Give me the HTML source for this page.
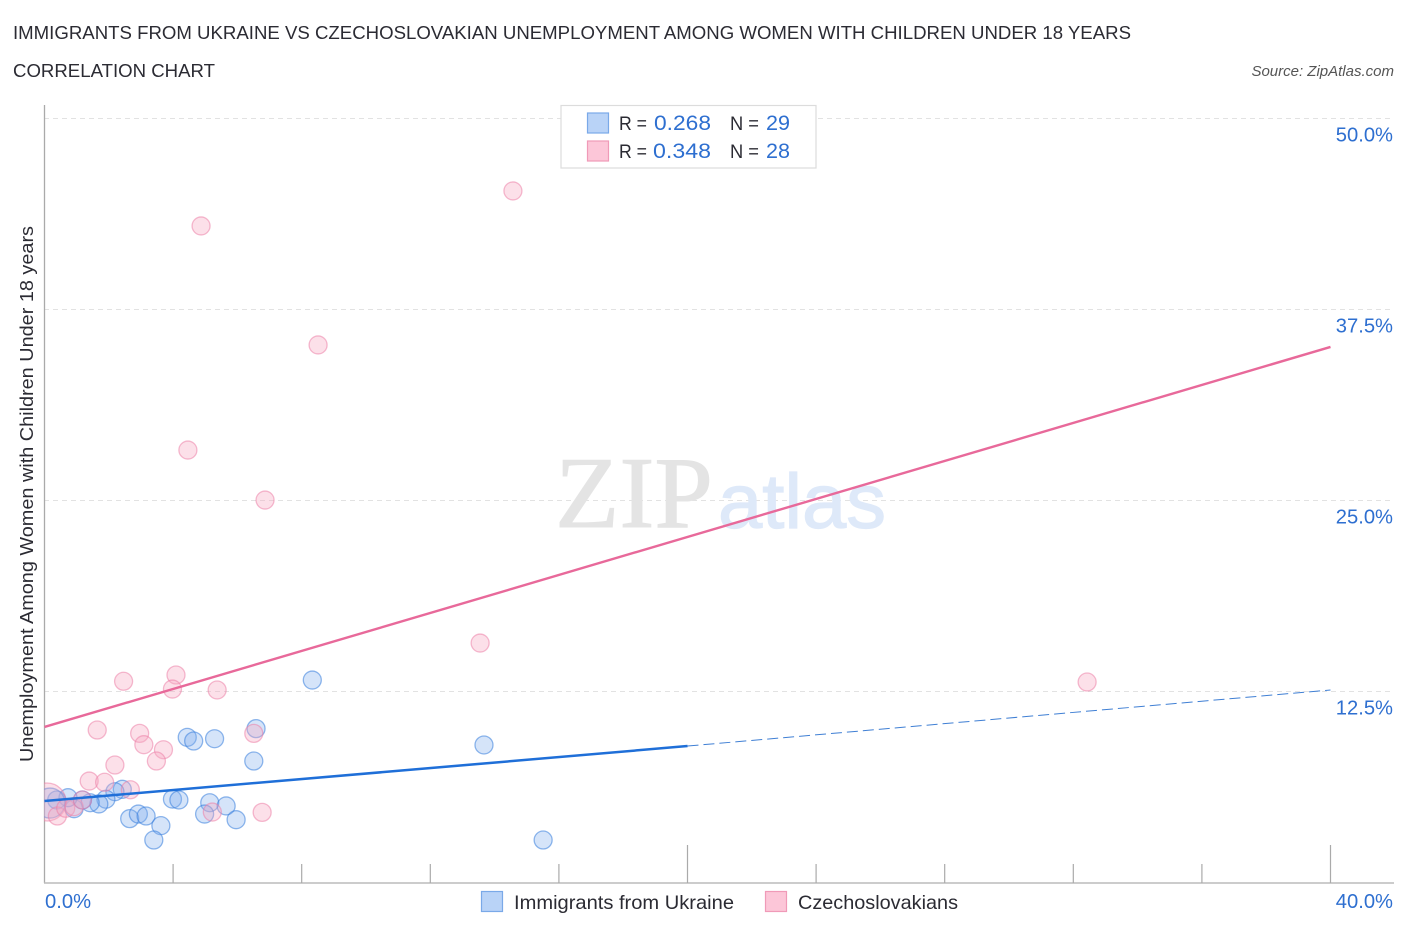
<!DOCTYPE html>
<html lang="en">
<head>
<meta charset="utf-8">
<title>Immigrants from Ukraine vs Czechoslovakian Unemployment Correlation Chart</title>
<style>
html,body{margin:0;padding:0;background:#fff;}
svg{display:block;font-family:"Liberation Sans",sans-serif;}
</style>
</head>
<body>
<svg id="chart" xmlns="http://www.w3.org/2000/svg" width="1406" height="930" viewBox="0 0 1406 930">
  <defs><clipPath id="plot-clip"><rect x="44" y="100" width="1350" height="783"/></clipPath></defs>
  <text x="13" y="39" font-size="18.5" fill="#2b2b33" textLength="1118" lengthAdjust="spacingAndGlyphs">IMMIGRANTS FROM UKRAINE VS CZECHOSLOVAKIAN UNEMPLOYMENT AMONG WOMEN WITH CHILDREN UNDER 18 YEARS</text>
  <text x="13" y="77" font-size="18.5" fill="#2b2b33" textLength="202" lengthAdjust="spacingAndGlyphs">CORRELATION CHART</text>
  <text x="1394" y="76" font-size="15" font-style="italic" fill="#555" text-anchor="end">Source: ZipAtlas.com</text>

  <g id="grid"></g>

  <text x="555" y="527" font-family="'Liberation Serif',serif" font-size="102" fill="#e4e4e4" stroke="#e4e4e4" stroke-width="1" textLength="158" lengthAdjust="spacingAndGlyphs">ZIP</text>
  <text x="718" y="528" font-family="'Liberation Sans',sans-serif" font-size="77" fill="#dee9f9" stroke="#dee9f9" stroke-width="1.2" textLength="168" lengthAdjust="spacingAndGlyphs">atlas</text>

  <g id="axes"></g>
  <g id="points" clip-path="url(#plot-clip)"></g>
  <g id="trends"></g>
  <g id="labels"></g>

  <text transform="translate(33,494) rotate(-90)" font-size="18.5" fill="#2b2b33" text-anchor="middle" textLength="536" lengthAdjust="spacingAndGlyphs">Unemployment Among Women with Children Under 18 years</text>

  <g>
    <rect x="561" y="105.5" width="255" height="62.5" fill="#fff" stroke="#dcdcdc" stroke-width="1.2"/>
    <rect x="587.5" y="113" width="21" height="20" fill="#b9d3f7" stroke="#7aa9e8" stroke-width="1.2"/>
    <rect x="587.5" y="141" width="21" height="20" fill="#fcc6d8" stroke="#f09ab8" stroke-width="1.2"/>
    <text x="619" y="130" font-size="19" fill="#2b2b33" textLength="28" lengthAdjust="spacingAndGlyphs">R =</text>
    <text x="654" y="130" font-size="21.5" fill="#2e6fd0" textLength="57" lengthAdjust="spacingAndGlyphs">0.268</text>
    <text x="730" y="130" font-size="19" fill="#2b2b33" textLength="29" lengthAdjust="spacingAndGlyphs">N =</text>
    <text x="766" y="130" font-size="21.5" fill="#2e6fd0" textLength="24" lengthAdjust="spacingAndGlyphs">29</text>
    <text x="619" y="158" font-size="19" fill="#2b2b33" textLength="28" lengthAdjust="spacingAndGlyphs">R =</text>
    <text x="653" y="158" font-size="21.5" fill="#2e6fd0" textLength="58" lengthAdjust="spacingAndGlyphs">0.348</text>
    <text x="730" y="158" font-size="19" fill="#2b2b33" textLength="29" lengthAdjust="spacingAndGlyphs">N =</text>
    <text x="766" y="158" font-size="21.5" fill="#2e6fd0" textLength="24" lengthAdjust="spacingAndGlyphs">28</text>
  </g>

  <g>
    <rect x="481.5" y="891.5" width="21" height="20" fill="#b9d3f7" stroke="#7aa9e8" stroke-width="1.2"/>
    <text x="514" y="909" font-size="19.5" fill="#2b2b33" textLength="220" lengthAdjust="spacingAndGlyphs">Immigrants from Ukraine</text>
    <rect x="765.5" y="891.5" width="21" height="20" fill="#fcc6d8" stroke="#f09ab8" stroke-width="1.2"/>
    <text x="798" y="909" font-size="19.5" fill="#2b2b33" textLength="160" lengthAdjust="spacingAndGlyphs">Czechoslovakians</text>
  </g>
</svg>
<script>
const ukraineX = [8.33,6.58,4.44,4.64,5.29,6.51,2.42,2.19,1.91,1.69,1.42,0.92,1.18,0.73,0.38,0.17,3.98,4.18,5.14,5.65,4.98,5.96,2.65,2.92,3.16,3.62,3.40,13.67,15.51];
const ukraineY = [13.25,10.07,9.50,9.26,9.41,7.95,6.10,5.94,5.45,5.14,5.22,4.83,5.40,5.55,5.40,5.20,5.46,5.40,5.22,5.01,4.48,4.11,4.18,4.48,4.35,3.72,2.78,9.00,2.78];
const czechX = [4.09,2.46,3.98,5.37,1.64,2.96,3.09,3.70,3.48,2.19,1.39,1.87,2.67,6.51,6.77,5.22,14.57,4.87,8.51,4.46,6.86,13.55,32.43,0.08,0.40,0.66,0.92,1.18];
const czechY = [13.58,13.17,12.66,12.60,9.98,9.76,9.02,8.69,7.95,7.69,6.64,6.56,6.07,9.76,4.59,4.61,45.26,42.97,35.18,28.30,25.03,15.67,13.12,5.27,4.35,4.86,4.96,5.40];
const ukraineTrendX = [0,20,40];
const ukraineTrendY = [5.33,8.93,12.6];
const czechTrendX = [0,40];
const czechTrendY = [10.18,35.05];
const yTicks = [12.5,25,37.5,50];
const yTickLabels = ['12.5%','25.0%','37.5%','50.0%'];
const xTicks = [4,8,12,16,20,24,28,32,36,40];
const xMajorTicks = [20,40];
const xEndValues = [0,40];
const xEndLabels = ['0.0%','40.0%'];

const NS = 'http://www.w3.org/2000/svg';
const xScale = v => 44.5 + v * 32.15;
const yScale = v => 882.5 - v * 15.28;
function make(parent, tag, attrs, text) {
  const el = document.createElementNS(NS, tag);
  for (const k in attrs) el.setAttribute(k, attrs[k]);
  if (text !== undefined) el.textContent = text;
  document.getElementById(parent).appendChild(el);
  return el;
}

yTicks.forEach(function (t, i) {
  const line = make('grid', 'line', {x1: 44, x2: 1394, y1: yScale(t), y2: yScale(t), stroke: '#e2e2e2', 'stroke-width': 1, 'stroke-dasharray': '5 4'});
  
  
  const label = make('labels', 'text', {x: 1393, y: yScale(t) + 23, 'font-size': 20.2, fill: '#2e6fd0', 'text-anchor': 'end'}, yTickLabels[i]);
  
  
});

const yAxis = make('axes', 'line', {x1: 44.5, x2: 44.5, y1: 105, y2: 883, stroke: '#aaaaaa', 'stroke-width': 1.3});


const xAxis = make('axes', 'line', {x1: 44, x2: 1394, y1: 883, y2: 883, stroke: '#bbbbbb', 'stroke-width': 1.5});


xTicks.forEach(function (t) {
  const top = xMajorTicks.includes(t) ? 845 : 864;
  const tick = make('axes', 'line', {x1: xScale(t), x2: xScale(t), y1: top, y2: 883, stroke: '#aaaaaa', 'stroke-width': 1.2});
  
  
});
xEndValues.forEach(function (v, i) {
  const first = i === 0;
  const label = make('labels', 'text', {x: first ? 45 : 1393, y: 908, 'font-size': 20.2, fill: '#2e6fd0', 'text-anchor': first ? 'start' : 'end'}, xEndLabels[i]);
  
  
});

function drawCzech() {
  czechX.forEach(function (v, i) {
    const r = i === 23 ? 19 : 9;
    const c = make('points', 'circle', {cx: xScale(v), cy: yScale(czechY[i]), r: r, fill: 'rgba(248,170,195,0.36)', stroke: 'rgba(236,125,165,0.52)', 'stroke-width': 1.3});
    
    
  });
}
function drawUkraine() {
  ukraineX.forEach(function (v, i) {
    const r = i === 15 ? 15 : 9;
    const c = make('points', 'circle', {cx: xScale(v), cy: yScale(ukraineY[i]), r: r, fill: 'rgba(125,170,235,0.32)', stroke: 'rgba(55,125,220,0.55)', 'stroke-width': 1.3});
    
    
  });
}
drawUkraine();
drawCzech();

const pinkLine = make('trends', 'line', {x1: xScale(czechTrendX[0]), y1: yScale(czechTrendY[0]), x2: xScale(czechTrendX[1]), y2: yScale(czechTrendY[1]), stroke: '#e8699a', 'stroke-width': 2.4});


const blueSolid = make('trends', 'line', {x1: xScale(ukraineTrendX[0]), y1: yScale(ukraineTrendY[0]), x2: xScale(ukraineTrendX[1]), y2: yScale(ukraineTrendY[1]), stroke: '#1f6fd8', 'stroke-width': 2.5});


const blueDash = make('trends', 'line', {x1: xScale(ukraineTrendX[1]), y1: yScale(ukraineTrendY[1]), x2: xScale(ukraineTrendX[2]), y2: yScale(ukraineTrendY[2]), stroke: '#3f7fd4', 'stroke-width': 1, 'stroke-dasharray': '11 5'});


</script>
</body>
</html>
